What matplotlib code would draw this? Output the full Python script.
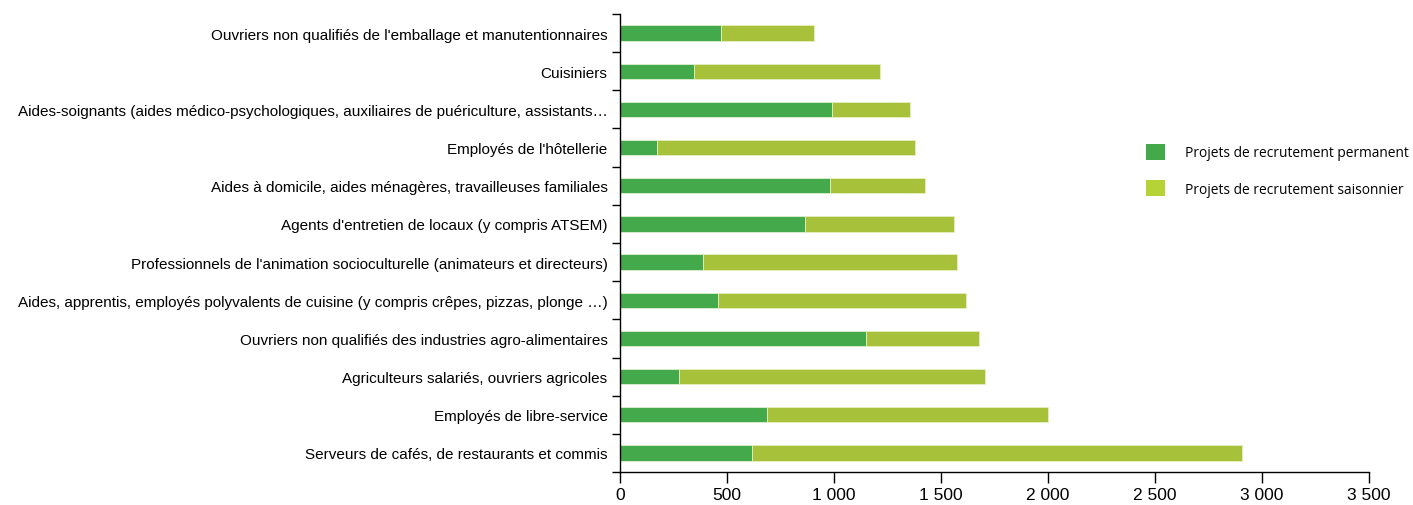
import matplotlib.pyplot as plt
from matplotlib.patches import Patch
from matplotlib.ticker import FixedLocator

categories = [
    "Ouvriers non qualifiés de l'emballage et manutentionnaires",
    "Cuisiniers",
    "Aides-soignants (aides médico-psychologiques, auxiliaires de puériculture, assistants…",
    "Employés de l'hôtellerie",
    "Aides à domicile, aides ménagères, travailleuses familiales",
    "Agents d'entretien de locaux (y compris ATSEM)",
    "Professionnels de l'animation socioculturelle (animateurs et directeurs)",
    "Aides, apprentis, employés polyvalents de cuisine (y compris crêpes, pizzas, plonge …)",
    "Ouvriers non qualifiés des industries agro-alimentaires",
    "Agriculteurs salariés, ouvriers agricoles",
    "Employés de libre-service",
    "Serveurs de cafés, de restaurants et commis",
]
permanent = [472, 346, 990, 173, 981, 864, 388, 458, 1150, 276, 687, 617]
seasonal = [434, 869, 365, 1205, 444, 697, 1187, 1159, 528, 1430, 1313, 2290]

c_perm = "#43a94a"
c_seas = "#a8c13a"
c_seas_leg = "#b5d334"

fig = plt.figure(figsize=(14.13, 5.06), dpi=100)
ax = fig.add_axes([0.4388, 0.0652, 0.530, 0.9052])

n = len(categories)
y = list(range(n - 1, -1, -1))

ax.barh(y, permanent, height=0.4, color=c_perm, edgecolor="#dff0d0", linewidth=0.6)
ax.barh(y, seasonal, left=permanent, height=0.4, color=c_seas, edgecolor="#e6efc0", linewidth=0.6)

ax.set_ylim(-0.5, n - 0.5)
ax.set_xlim(0, 3500)

ax.set_yticks(y)
ax.set_yticklabels(categories, fontsize=11, family="Liberation Sans")
ax.tick_params(axis="y", which="major", length=0, pad=9)
ax.yaxis.set_minor_locator(FixedLocator([i + 0.5 for i in range(-1, n)]))
ax.tick_params(axis="y", which="minor", length=6, width=1)

xt = [0, 500, 1000, 1500, 2000, 2500, 3000, 3500]
ax.set_xticks(xt)
ax.set_xticklabels([f"{v:,}".replace(",", " ") for v in xt],
                   fontsize=12.5, family="Liberation Sans")
ax.tick_params(axis="x", length=8, width=1, pad=3)

for s in ["top", "right"]:
    ax.spines[s].set_visible(False)
ax.spines["left"].set_linewidth(1)
ax.spines["bottom"].set_linewidth(1)

handles = [
    Patch(facecolor=c_perm, label="Projets de recrutement permanent"),
    Patch(facecolor=c_seas_leg, label="Projets de recrutement saisonnier"),
]
fig.legend(handles=handles, loc="upper left", bbox_to_anchor=(0.802, 0.738),
           frameon=False, prop={"family": "Open Sans", "size": 9.9},
           handlelength=1.4, handleheight=1.4, labelspacing=1.45, handletextpad=1.5)

fig.savefig("out.png", dpi=100)
